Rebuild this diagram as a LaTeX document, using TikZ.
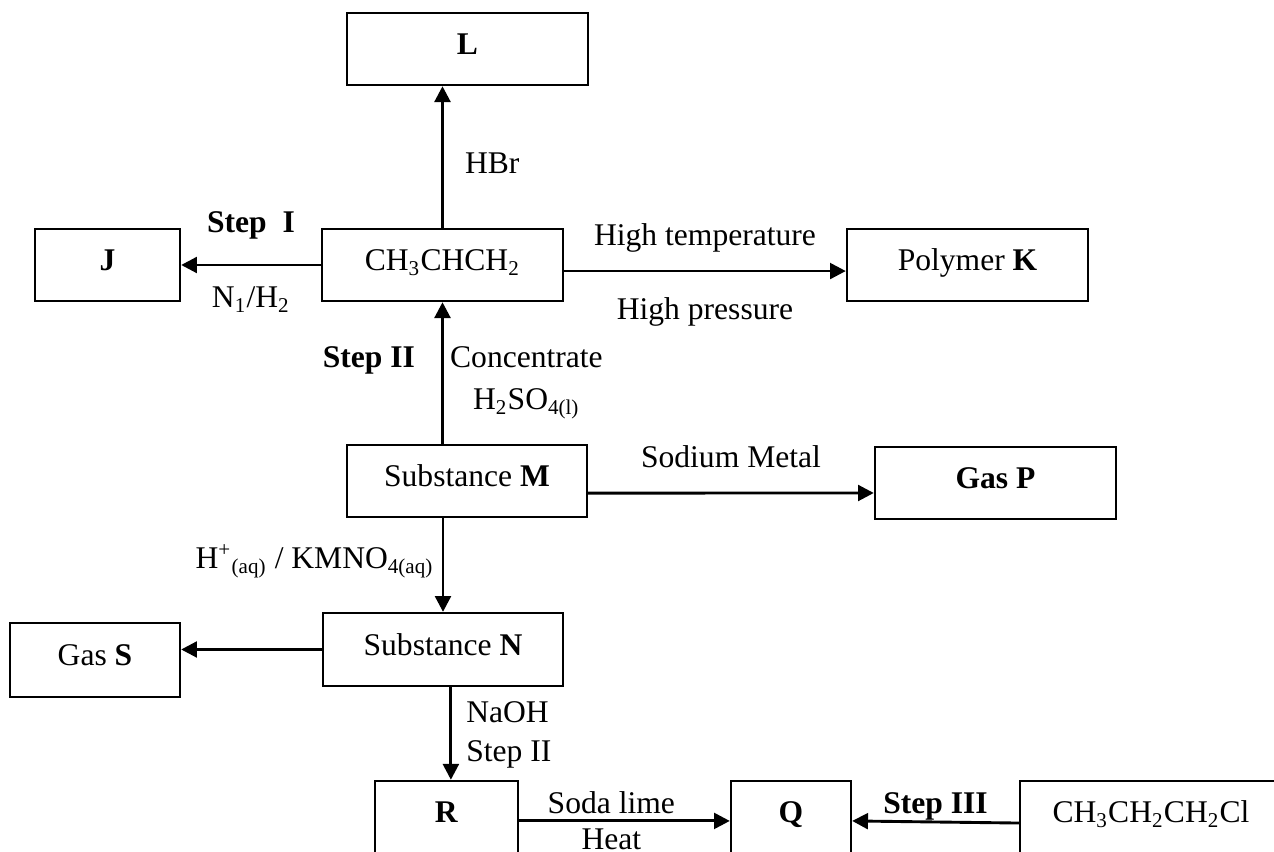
\documentclass[tikz,border=0pt]{standalone}
\usepackage{fontspec}
\setmainfont{Liberation Serif}
\usepackage{tikz}
\usetikzlibrary{arrows.meta,positioning}

\begin{document}
\begin{tikzpicture}[x=0.38pt, y=-0.38pt,
  font=\fontsize{12}{14.8}\selectfont,
  box/.style={draw, line width=0.9pt, inner sep=0pt, minimum height=27.4pt,
              text height=7.9pt, text depth=3.5pt},
  lbl/.style={inner sep=0pt, text height=7.9pt, text depth=0pt},
  rxn/.style={line width=1.1pt, -{Triangle[length=6pt,width=6pt]}}]
  \clip (0,0) rectangle (1274,852);

  \node[box, minimum width=91.6pt] (L) at (467.5,49) {\textbf{L}};
  \node[box, minimum width=55.1pt] (J) at (107.5,265) {\textbf{J}};
  \node[box, minimum width=91.6pt] (C3) at (442.5,265) {CH\textsubscript{3}CHCH\textsubscript{2}};
  \node[box, minimum width=91.6pt] (K) at (967.5,265) {Polymer \textbf{K}};
  \node[box, minimum width=91.2pt] (M) at (467,481) {Substance \textbf{M}};
  \node[box, minimum width=91.6pt] (P) at (995.5,483) {\textbf{Gas P}};
  \node[box, minimum width=91.2pt, minimum height=27.7pt] (N) at (443,649.5) {Substance \textbf{N}};
  \node[box, minimum width=64.6pt, minimum height=28.1pt] (S) at (95,660) {Gas \textbf{S}};
  \node[box, minimum width=54.3pt] (R) at (446.5,817) {\textbf{R}};
  \node[box, minimum width=45.6pt] (Q) at (791,817) {\textbf{Q}};
  \node[box, minimum width=99.6pt] (Cl) at (1151,817) {CH\textsubscript{3}CH\textsubscript{2}CH\textsubscript{2}Cl};

  \draw[rxn] (C3.north) -- (C3.north |- L.south)
    node[lbl, midway, anchor=west, xshift=8pt, yshift=-2.3pt] {HBr};
  \draw[rxn] (C3) -- (J)
    node[lbl, midway, yshift=16.3pt] {\textbf{Step\ \ I}}
    node[lbl, midway, yshift=-12.2pt] {N\textsubscript{1}/H\textsubscript{2}};
  \draw[rxn] ([yshift=-2.3pt]C3.east) -- ([yshift=-2.3pt]K.west)
    node[lbl, midway, yshift=13.7pt] {High temperature}
    node[lbl, midway, yshift=-14.4pt] {High pressure};
  \draw[rxn] (C3.south |- M.north) -- (C3.south)
    node[lbl, midway, anchor=east, xshift=-9.9pt, yshift=6pt] {\textbf{Step II}}
    node[midway, anchor=north, inner sep=0pt, align=center, xshift=31.9pt, yshift=10.6pt,
         font=\fontsize{12}{16}\selectfont] {Concentrate\\H\textsubscript{2}SO\textsubscript{4(l)}};
  \draw[rxn] ([yshift=-4.6pt]M.east) -- ([yshift=-3.8pt]P.west)
    node[lbl, midway, yshift=13.7pt] {Sodium Metal};
  \draw[rxn] (N.north |- M.south) -- (N.north)
    node[lbl, midway, anchor=east, xshift=-3pt, yshift=2.7pt]
      {H\textsuperscript{+}\textsubscript{(aq)} / KMNO\textsubscript{4(aq)}};
  \draw[rxn] (N.west) -- (N.west -| S.east);

  \coordinate (nr) at ([xshift=3pt]N.south);
  \draw[rxn] (nr) -- (nr |- R.north)
    node[midway, anchor=north west, inner sep=0pt, align=left, xshift=5.3pt, yshift=12.7pt]
      {NaOH\\Step II};
  \draw[rxn] ([yshift=-1.5pt]R.east) -- ([yshift=-1.5pt]Q.west)
    node[lbl, midway, xshift=-5pt, yshift=6.8pt] {Soda lime}
    node[lbl, midway, xshift=-5pt, yshift=-7pt] {Heat};
  \draw[rxn] ([yshift=-2.3pt]Cl.west) -- ([yshift=-1.5pt]Q.east)
    node[lbl, midway, yshift=7.2pt] {\textbf{Step III}};
\end{tikzpicture}
\end{document}
